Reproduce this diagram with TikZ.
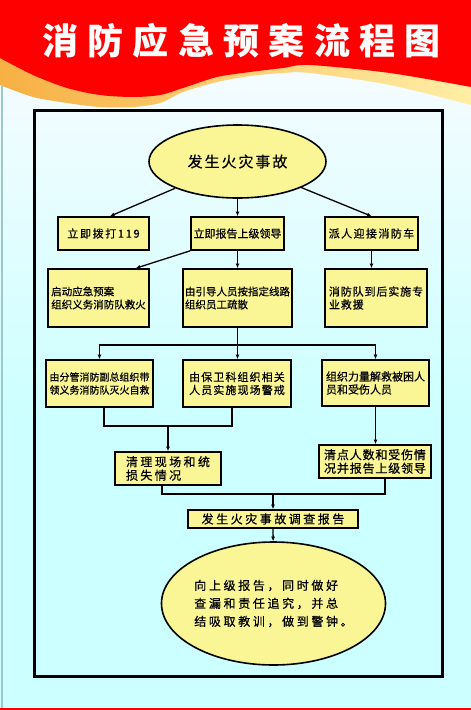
\documentclass[tikz,border=0pt]{standalone}
\usepackage{fontspec}
\usepackage{tikz}
\usetikzlibrary{shapes.geometric,arrows.meta}
\newfontfamily\cjk{Noto Sans CJK SC}[FakeBold=0.6]
\newfontfamily\cjkhead{Noto Sans CJK SC}
\definecolor{boxfill}{RGB}{250,246,150}
\definecolor{flamered}{RGB}{255,0,0}
\definecolor{bandorange}{RGB}{247,176,68}
\definecolor{bandyellow}{RGB}{255,238,165}
\definecolor{skytop}{RGB}{246,252,255}
\definecolor{skybottom}{RGB}{204,255,255}
\definecolor{edgegray}{RGB}{160,200,200}

\begin{document}
\begin{tikzpicture}[x=1pt,y=-1pt,
	every node/.style={inner sep=0pt},
	stepbox/.style={draw=black, line width=1.6pt, fill=boxfill, rectangle, align=left},
	bubble/.style={draw=black, line width=1.6pt, fill=boxfill, ellipse, align=left},
	txt/.style n args={3}{font=\cjk\fontsize{#1}{#2}\selectfont\addfontfeature{LetterSpace=#3}},
	link/.style={line width=1.3pt, -{Latex[length=4.5pt,width=4pt]}},
	wire/.style={line width=1.3pt}]
	\useasboundingbox (0,0) rectangle (471,710);
	% background and header band
	\shade[top color=skytop, bottom color=skybottom] (0,60) rectangle (471,420);
	\fill[skybottom] (0,420) rectangle (471,710);
	\shade[left color=bandorange, right color=bandyellow] (0,0) -- plot[smooth] coordinates {(0,85) (33,97) (67,103) (100,107) (133,107) (160,103) (183,92) (217,82) (250,76) (283,73) (310,73) (390,85) (471,105)} -- (471,0) -- cycle;
	\fill[flamered] (0,0) -- plot[smooth] coordinates {(0,58) (33,75) (67,88) (100,95) (133,97) (160,95) (183,88) (217,77) (250,72) (283,68) (310,65) (390,73) (471,87)} -- (471,0) -- cycle;
	\fill[flamered] (0,707.5) rectangle (471,710);
	\draw[edgegray, line width=1.7pt] (1.8,86) -- (1.8,707.5);
	\node[text=white, font=\cjkhead\bfseries\fontsize{36}{40}\selectfont\addfontfeature{LetterSpace=26}] (title) at (241.5,41) {消防应急预案流程图};
	\draw[line width=3pt] (34,110.5) rectangle (442,676);

	% flow
	\node[bubble, txt={15}{18}{13}, minimum width=177, minimum height=73] (fire) at (237.5,161.5) {发生火灾事故};

	\node[stepbox, txt={11}{13}{15}, minimum width=91, minimum height=33] (dial) at (103.5,233.5) {立即拨打119};
	\node[stepbox, txt={11}{13}{0}, minimum width=93, minimum height=33] (leader) at (237.5,233.5) {立即报告上级领导};
	\node[stepbox, txt={11}{13}{13}, minimum width=93, minimum height=33] (truck) at (371.5,233.5) {派人迎接消防车};

	\node[stepbox, txt={10.5}{13}{0}, minimum width=101, minimum height=58] (plan) at (98.5,298) {启动应急预案\\组织义务消防队救火};
	\node[stepbox, txt={10.5}{13}{0}, minimum width=109, minimum height=58] (evac) at (237.5,298) {由引导人员按指定线路\\组织员工疏散};
	\node[stepbox, txt={11}{13}{8}, minimum width=102, minimum height=58] (rescue) at (376,298) {消防队到后实施专\\业救援};

	\node[stepbox, txt={10}{13}{0}, minimum width=107, minimum height=47] (fight) at (99.5,383.5) {由分管消防副总组织带\\领义务消防队灭火自救};
	\node[stepbox, txt={11}{13}{10}, minimum width=108, minimum height=47] (guard) at (237,383.5) {由保卫科组织相关\\人员实施现场警戒};
	\node[stepbox, txt={11}{13}{0}, minimum width=107, minimum height=46] (free) at (375.5,383) {组织力量解救被困人\\员和受伤人员};

	\node[stepbox, txt={12}{13.5}{20}, minimum width=106, minimum height=33] (clean) at (168,468.5) {清理现场和统\\损失情况};
	\node[stepbox, txt={12}{13.5}{7}, minimum width=112, minimum height=33] (count) at (375,461.5) {清点人数和受伤情\\况并报告上级领导};

	\node[stepbox, txt={12}{13}{21}, minimum width=170, minimum height=18] (report) at (273,519) {发生火灾事故调查报告};
	\node[bubble, txt={12}{18}{22}, minimum width=217, minimum height=123] (lesson) at (273.5,603.5) {向上级报告，同时做好\\查漏和责任追究，并总\\结吸取教训，做到警钟。};

	\coordinate (split) at (evac.south |- 0,345);
	\coordinate (join1) at (clean.north |- 0,426);
	\coordinate (join2) at (report.north |- 0,494);

	\draw[link] (fire) -- ([xshift=6.5pt]dial.north);
	\draw[link] (fire) -- (leader);
	\draw[link] (fire) -- (truck.north);
	\draw[link] (leader.south west) -- ([xshift=-14pt]plan.north east);
	\draw[link] (leader) -- (evac);
	\draw[link] (truck) -- (truck |- rescue.north);
	\draw[wire] (evac) -- (split);
	\draw[link] (split) -| (fight);
	\draw[link] (split) -- (split |- guard.north);
	\draw[link] (split) -| (free);
	\draw[wire] ([xshift=4.5pt]fight.south) |- (join1) -| ([xshift=-5pt]guard.south);
	\draw[link] (join1) -- (clean);
	\draw[link] (free) -- (free |- count.north);
	\draw[wire] ([xshift=-6pt]clean.south) |- (join2) -| ([xshift=10pt]count.south);
	\draw[link] (join2) -- (report);
	\draw[link] (report) -- (lesson);
\end{tikzpicture}
\end{document}
